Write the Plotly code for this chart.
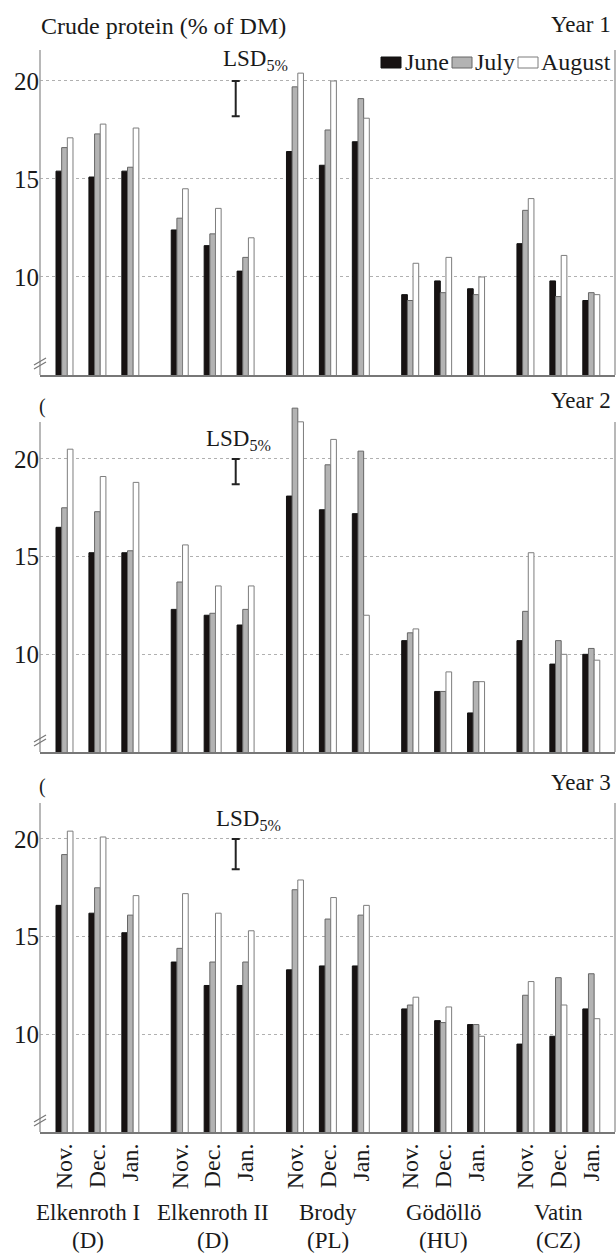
import plotly.graph_objects as go

# ---- data -------------------------------------------------------------
locations = ["Elkenroth I", "Elkenroth II", "Brody", "Gödöllö", "Vatin"]
countries = ["(D)", "(D)", "(PL)", "(HU)", "(CZ)"]
months = ["Nov.", "Dec.", "Jan."]
series_names = ["June", "July", "August"]
years = ["Year 1", "Year 2", "Year 3"]

# crude protein (% of DM); order: location x (Nov., Dec., Jan.)
y1_june = [15.4, 15.1, 15.4, 12.4, 11.6, 10.3, 16.4, 15.7, 16.9, 9.1, 9.8, 9.4, 11.7, 9.8, 8.8]
y1_july = [16.6, 17.3, 15.6, 13.0, 12.2, 11.0, 19.7, 17.5, 19.1, 8.8, 9.2, 9.1, 13.4, 9.0, 9.2]
y1_august = [17.1, 17.8, 17.6, 14.5, 13.5, 12.0, 20.4, 20.0, 18.1, 10.7, 11.0, 10.0, 14.0, 11.1, 9.1]

y2_june = [16.5, 15.2, 15.2, 12.3, 12.0, 11.5, 18.1, 17.4, 17.2, 10.7, 8.1, 7.0, 10.7, 9.5, 10.0]
y2_july = [17.5, 17.3, 15.3, 13.7, 12.1, 12.3, 22.6, 19.7, 20.4, 11.1, 8.1, 8.6, 12.2, 10.7, 10.3]
y2_august = [20.5, 19.1, 18.8, 15.6, 13.5, 13.5, 21.9, 21.0, 12.0, 11.3, 9.1, 8.6, 15.2, 10.0, 9.7]

y3_june = [16.6, 16.2, 15.2, 13.7, 12.5, 12.5, 13.3, 13.5, 13.5, 11.3, 10.7, 10.5, 9.5, 9.9, 11.3]
y3_july = [19.2, 17.5, 16.1, 14.4, 13.7, 13.7, 17.4, 15.9, 16.1, 11.5, 10.6, 10.5, 12.0, 12.9, 13.1]
y3_august = [20.4, 20.1, 17.1, 17.2, 16.2, 15.3, 17.9, 17.0, 16.6, 11.9, 11.4, 9.9, 12.7, 11.5, 10.8]

lsd_5pct = [1.8, 1.3, 1.55]
y_ticks = [10, 15, 20]

# ---- layout helpers ---------------------------------------------------
W, H = 616, 1253
FONT = "Liberation Serif"
TXT = "#1a1a1a"


def fx(p):
    return p / W


def fy(p):
    return 1 - p / H


panel_values = [
    [y1_june, y1_july, y1_august],
    [y2_june, y2_july, y2_august],
    [y3_june, y3_july, y3_august],
]
# (frame top px, bottom px, plotting top px, y-range top)
# the middle panel's plotting area reaches a little above its frame so the
# tallest July bar can stick out of it
panels = [(50, 375, 50, 21.58), (422, 752, 406, 22.71), (803, 1132, 803, 21.84)]

fills = ["#171212", "#b3b3b3", "#ffffff"]
edges = ["#111111", "#666666", "#7d7d7d"]

GAP = 3.5  # slot distance between first months of neighbouring locations
x_pos = [li * GAP + mi for li in range(len(locations)) for mi in range(len(months))]
x_range = [-0.744, 16.72]
lsd_x = 5.2

fig = go.Figure()

for k, vals in enumerate(panel_values):
    xa = "x" if k == 0 else f"x{k + 1}"
    ya = "y" if k == 0 else f"y{k + 1}"
    for s, name in enumerate(series_names):
        fig.add_trace(go.Bar(
            x=x_pos, y=vals[s], name=name, xaxis=xa, yaxis=ya,
            marker=dict(color=fills[s], line=dict(color=edges[s], width=1)),
            offsetgroup=str(s), showlegend=False,
        ))
    # LSD 5% bar hanging from the 20 % line
    half = lsd_5pct[k] / 2
    fig.add_trace(go.Scatter(
        x=[lsd_x], y=[20 - half], xaxis=xa, yaxis=ya, mode="markers",
        marker=dict(size=1, color="rgba(0,0,0,0)"),
        error_y=dict(type="data", array=[half], symmetric=True,
                     color="#222222", thickness=2, width=4),
        showlegend=False, hoverinfo="skip",
    ))

layout = dict(
    width=W, height=H, margin=dict(l=0, r=0, t=0, b=0),
    paper_bgcolor="white", plot_bgcolor="white",
    barmode="group", bargap=0.484, bargroupgap=0,
    font=dict(family=FONT, color=TXT, size=23),
    showlegend=False,
)

shapes = []
for k, (top, bot, ptop, ytop) in enumerate(panels):
    sx = "" if k == 0 else str(k + 1)
    last = k == len(panels) - 1
    layout[f"xaxis{sx}"] = dict(
        domain=[fx(40), fx(615)], range=x_range, anchor=f"y{sx}",
        showgrid=False, zeroline=False, showline=True,
        linecolor="#777777", linewidth=2,
        tickvals=x_pos if last else None,
        ticktext=months * len(locations) if last else None,
        showticklabels=last, tickangle=-90, ticks="",
        tickfont=dict(family=FONT, size=24, color=TXT),
    )
    layout[f"yaxis{sx}"] = dict(
        domain=[fy(bot), fy(ptop)], range=[5, ytop], anchor=f"x{sx}",
        tickvals=y_ticks, ticks="", showgrid=True, gridcolor="#b0b0b0",
        griddash="dot", gridwidth=1, zeroline=False, showline=False,
        tickfont=dict(family=FONT, size=25, color=TXT),
    )
    # frame sides of the panel
    for xl in (40, 615):
        shapes.append(dict(type="line", xref="paper", yref="paper",
                           x0=fx(xl), x1=fx(xl), y0=fy(bot), y1=fy(top),
                           line=dict(color="#a0a0a0", width=1.5)))

annotations = []

# headings
annotations.append(dict(text="Crude protein (% of DM)", xref="paper", yref="paper",
                        x=fx(39), y=fy(26), xanchor="left", yanchor="middle",
                        showarrow=False, font=dict(size=24)))
year_y = [25, 401, 782]
for k, yr in enumerate(years):
    annotations.append(dict(text=yr, xref="paper", yref="paper", x=fx(613),
                            y=fy(year_y[k]), xanchor="right", yanchor="middle",
                            showarrow=False, font=dict(size=23)))

# remnants of the cut axis title above lower panels
for py in (406, 786):
    annotations.append(dict(text="(", xref="paper", yref="paper", x=fx(37),
                            y=fy(py), xanchor="left", yanchor="middle",
                            showarrow=False, font=dict(size=20)))

# LSD labels
lsd_lab = [(221, 60), (204, 440), (214, 820)]
for (lx, ly) in lsd_lab:
    annotations.append(dict(text="LSD<sub>5%</sub>", xref="paper", yref="paper",
                            x=fx(lx), y=fy(ly), xanchor="left", yanchor="middle",
                            showarrow=False, font=dict(size=23)))

# legend
leg = [(381, 403), (452, 473), (518, 539)]
for s, name in enumerate(series_names):
    sx0, tx = leg[s]
    shapes.append(dict(type="rect", xref="paper", yref="paper",
                       x0=fx(sx0), x1=fx(sx0 + 20), y0=fy(68), y1=fy(57),
                       fillcolor=fills[s], line=dict(color=edges[s], width=1)))
    annotations.append(dict(text=name, xref="paper", yref="paper", x=fx(tx),
                            y=fy(62), xanchor="left", yanchor="middle",
                            showarrow=False, font=dict(size=24)))

# location names under the bottom panel (first one nudged left to leave a gap)
name_shift = [-9, 0, 0, 0, 0]
for li, (loc, cc) in enumerate(zip(locations, countries)):
    cx = li * GAP + 1
    annotations.append(dict(text=loc, xref="x3", yref="paper", x=cx, y=fy(1212),
                            xanchor="center", yanchor="middle", showarrow=False,
                            xshift=name_shift[li], font=dict(size=23)))
    annotations.append(dict(text=cc, xref="x3", yref="paper", x=cx, y=fy(1240),
                            xanchor="center", yanchor="middle", showarrow=False,
                            xshift=name_shift[li], font=dict(size=23)))

# axis-break marks on the value axes
for (top, bot, _, _) in panels:
    for off in (6, 10):
        shapes.append(dict(type="line", xref="paper", yref="paper",
                           x0=fx(34), y0=fy(bot - off), x1=fx(46), y1=fy(bot - off - 7),
                           line=dict(color="#777777", width=1.2)))

layout["annotations"] = annotations
layout["shapes"] = shapes
fig.update_layout(**layout)

fig.write_html("out.html")
